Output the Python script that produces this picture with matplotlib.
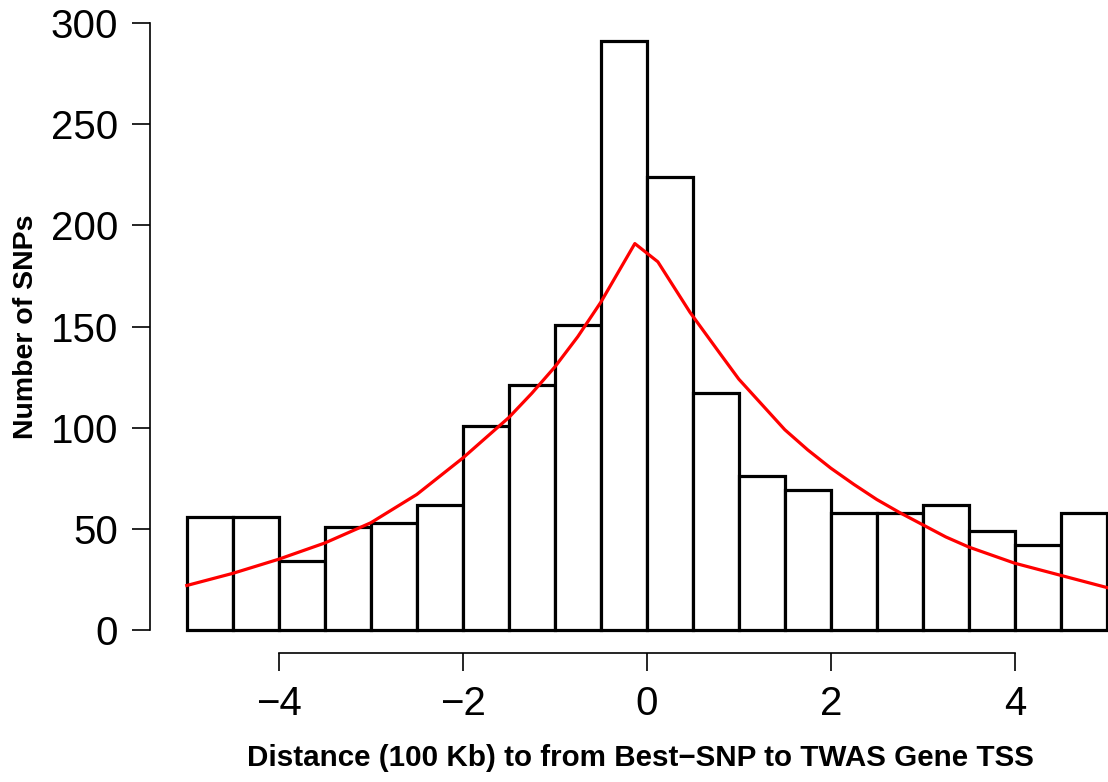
import matplotlib
matplotlib.use("Agg")
import matplotlib.pyplot as plt
import numpy as np

plt.rcParams['font.family'] = ['Liberation Sans', 'DejaVu Sans']

# histogram: bin edges and counts
bin_edges = np.arange(-5.0, 5.01, 0.5)
counts = [56, 56, 34, 51, 53, 62, 101, 121, 151, 291,
          224, 117, 76, 69, 58, 58, 62, 49, 42, 58]

# fitted curve
curve_x = [-5.0, -4.75, -4.5, -4.25, -4.0, -3.75, -3.5, -3.25, -3.0, -2.75, -2.5,
           -2.25, -2.0, -1.75, -1.5, -1.25, -1.0, -0.75, -0.5, -0.13,
           0.12, 0.47, 0.79, 1.0, 1.2, 1.5, 1.75, 2.0, 2.25, 2.5, 2.75,
           3.0, 3.25, 3.5, 3.75, 4.0, 4.25, 4.5, 4.75, 5.0]
curve_y = [22, 25, 28, 31.5, 35, 39, 43, 48, 53, 60, 67,
           76, 85, 95, 105, 117, 130, 145, 162, 191,
           182, 157, 137, 124, 114, 99, 89, 80, 72, 64.5, 58,
           52, 46, 41, 37, 33, 30, 27, 24, 21]

fig = plt.figure(figsize=(11.08, 7.82), dpi=100)
W, H = 1108, 782
ax = fig.add_axes([150 / W, (782 - 653) / H, 1 - 150 / W, 653 / H])

ax.bar(bin_edges[:-1], counts, width=0.5, align='edge', facecolor='white',
       edgecolor='black', linewidth=2.3)
ax.plot(curve_x, curve_y, color='red', linewidth=2.3)

ax.set_xlim(-5.4, 5.013)
ax.set_ylim(-11.37, 311.4)

for s in ['top', 'right']:
    ax.spines[s].set_visible(False)
ax.spines['left'].set_bounds(0, 300)
ax.spines['bottom'].set_bounds(-4, 4)
ax.spines['left'].set_linewidth(1.2)
ax.spines['bottom'].set_linewidth(1.2)

ax.set_xticks([-4, -2, 0, 2, 4])
ax.set_xticklabels(['\u22124', '\u22122', '0', '2', '4'])
ax.set_yticks([0, 50, 100, 150, 200, 250, 300])
ax.tick_params(axis='both', length=13, width=1.2, labelsize=29, pad=10)

ax.set_xlabel('Distance (100 Kb) to from Best\u2212SNP to TWAS Gene TSS',
              fontsize=21.3, fontweight='bold')
ax.xaxis.set_label_coords((640 - 150) / 958, -(744 - 653) / 653, transform=ax.transAxes)
ax.set_ylabel('Number of SNPs', fontsize=20.5, fontweight='bold', labelpad=8)

fig.savefig('out.png', dpi=100)
